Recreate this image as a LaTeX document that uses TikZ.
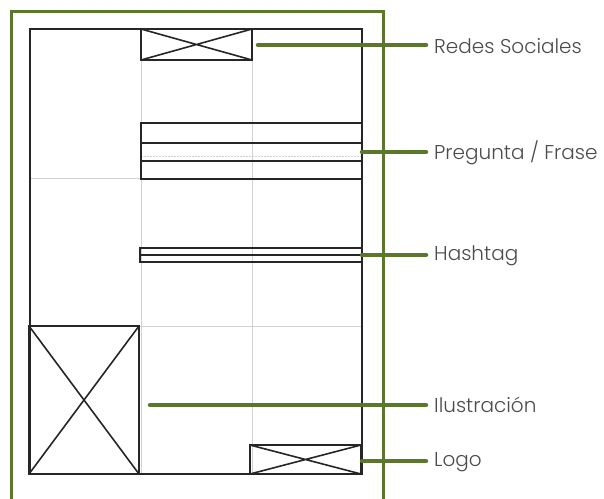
\documentclass[tikz,border=0pt]{standalone}
\usepackage{fontspec}
\setmainfont{Poppins}[UprightFont=* Light]
\begin{document}
\begin{tikzpicture}[x=1pt,y=-1pt,
  sk/.style={draw=black!85,line width=1.6pt},
  boxn/.style={draw=black!85,line width=1.6pt,inner sep=0pt,outer sep=0pt},
  gridln/.style={draw=black!18,line width=0.6pt},
  leader/.style={draw=leafgreen,line width=4.5pt,line cap=round},
  lbl/.style={anchor=west,inner sep=0pt,text=black!70,font=\fontsize{20}{24}\selectfont}]
\definecolor{leafgreen}{HTML}{5B772B}
\useasboundingbox (0,0) rectangle (604,498);
\clip (0,0) rectangle (604,498);
\fill[white] (0,0) rectangle (604,498);
% frame
\draw[draw=leafgreen,line width=3pt] (11,510) -- (11,11) -- (383,11) -- (383,510);
% grid
\draw[gridln] (141,29) -- (141,474) (252,29) -- (252,474);
\draw[gridln] (30,178) -- (362,178) (30,326) -- (362,326);
\draw[gridln,dash pattern=on 2pt off 1pt] (141,156) -- (362,156);
% outer
\node[boxn,minimum width=332pt,minimum height=445pt] (page) at (196,251.5) {};
% redes sociales
\node[boxn,minimum width=111pt,minimum height=31pt] (rs) at (196.5,44.5) {};
\draw[sk] (rs.north west) -- (rs.south east) (rs.south west) -- (rs.north east);
\coordinate (rsend) at (258,45);
% pregunta
\node[boxn,minimum width=221pt,minimum height=56pt] (pf) at (251.5,151) {};
\draw[sk] (141,143) -- (362,143) (141,161) -- (362,161);
\coordinate (pfend) at (362,152);
% hashtag
\node[boxn,minimum width=222pt,minimum height=14pt] (ht) at (251,255) {};
\draw[sk] (ht.west) -- (ht.east);
\coordinate (htend) at (362,255);
% ilustracion
\node[boxn,minimum width=110pt,minimum height=148pt] (il) at (84,400) {};
\draw[sk] (il.north west) -- (il.south east) (il.south west) -- (il.north east);
\coordinate (ilend) at (150,405);
% logo
\node[boxn,minimum width=111pt,minimum height=29pt] (lg) at (305.5,459.5) {};
\draw[sk] (lg.north west) -- (lg.south east) (lg.south west) -- (lg.north east);
\coordinate (lgend) at (362,461);
% labels
\node[lbl] (l1) at (434,46) {Redes Sociales};
\node[lbl] (l2) at (434,153) {Pregunta / Frase};
\node[lbl] (l3) at (434,256) {Hashtag};
\node[lbl] (l4) at (434,405) {Ilustración};
\node[lbl] (l5) at (434,462) {Logo};
\coordinate (k1) at (426,45);
\coordinate (k2) at (426,152);
\coordinate (k3) at (426,255);
\coordinate (k4) at (426,405);
\coordinate (k5) at (426,461);
\draw[leader] (rsend) -- (k1);
\draw[leader] (pfend) -- (k2);
\draw[leader] (htend) -- (k3);
\draw[leader] (ilend) -- (k4);
\draw[leader] (lgend) -- (k5);
\end{tikzpicture}
\end{document}
